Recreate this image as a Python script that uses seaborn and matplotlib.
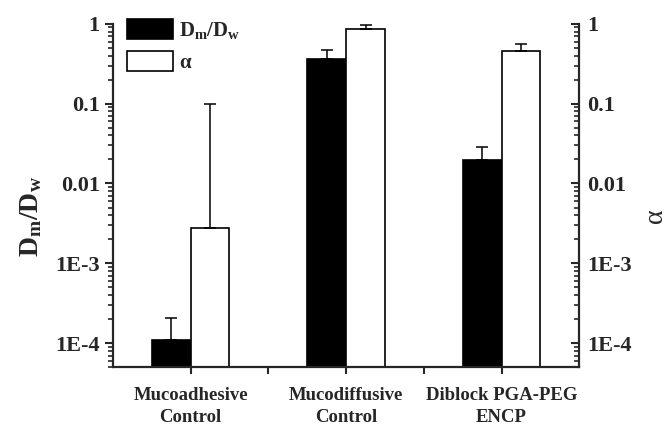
import pandas as pd
import seaborn as sns
import matplotlib
matplotlib.use('Agg')
import matplotlib.pyplot as plt
import numpy as np
from matplotlib.ticker import FixedLocator, LogLocator, NullFormatter

# data
groups = ['Mucoadhesive\nControl', 'Mucodiffusive\nControl', 'Diblock PGA-PEG\nENCP']
dm_dw = [1.11e-4, 0.36, 0.0197]
dm_dw_top = [2.06e-4, 0.47, 0.0287]
alpha = [2.77e-3, 0.865, 0.458]
alpha_top = [0.099, 0.98, 0.556]
series = ['$\\mathbf{D_m/D_w}$', 'α']
ytick_vals = [1e-4, 1e-3, 0.01, 0.1, 1]
ytick_labels = ['1E-4', '1E-3', '0.01', '0.1', '1']

sns.set_theme(style="ticks")
plt.rcParams['font.family'] = ['Liberation Serif', 'DejaVu Serif']
plt.rcParams['font.weight'] = 'bold'
plt.rcParams['mathtext.fontset'] = 'custom'
plt.rcParams['mathtext.rm'] = 'Liberation Serif:bold'
plt.rcParams['mathtext.bf'] = 'Liberation Serif:bold'
plt.rcParams['mathtext.it'] = 'Liberation Serif:bold'

df = pd.DataFrame({
    'group': groups * 2,
    'series': [series[0]] * 3 + [series[1]] * 3,
    'value': dm_dw + alpha,
})

fig = plt.figure(figsize=(6.72, 4.25), dpi=100)
ax = fig.add_axes([0.168, 0.136, 0.694, 0.808])

sns.barplot(data=df, x='group', y='value', hue='series', ax=ax,
            palette=['black', 'white'], edgecolor='black', linewidth=1.2,
            width=0.5, errorbar=None, saturation=1)
ax.set_yscale('log')
ax.set_ylim(5e-5, 1)
ax.set_xlim(-0.5, 2.5)

# upward-only error bars on each bar
for cont, top_vals in zip(ax.containers, [dm_dw_top, alpha_top]):
    xs = [p.get_x() + p.get_width() / 2 for p in cont.patches]
    hs = [p.get_height() for p in cont.patches]
    up = np.array(top_vals) - np.array(hs)
    ax.errorbar(xs, hs, yerr=[np.zeros(len(hs)), up], fmt='none',
                ecolor='black', elinewidth=1.1, capsize=4, capthick=1.1)

ax.yaxis.set_major_locator(FixedLocator(ytick_vals))
ax.set_yticklabels(ytick_labels)
ax.yaxis.set_minor_locator(LogLocator(base=10, subs=np.arange(2, 10)))
ax.yaxis.set_minor_formatter(NullFormatter())
ax.set_xticks([0, 1, 2])
ax.set_xticklabels(groups, fontsize=13.5, fontweight='bold', linespacing=1.4)
ax.set_xticks([0.5, 1.5], minor=True)
ax.tick_params(axis='x', which='both', direction='out', length=5, width=1.5, pad=9)
ax.tick_params(axis='y', which='major', direction='out', length=6, width=1.5, labelsize=16)
ax.tick_params(axis='y', which='minor', direction='out', length=3.5, width=1.2)
ax.set_xlabel('')
ax.set_ylabel('$\\mathbf{D_m/D_w}$', fontsize=20, labelpad=8, y=0.44)

for s in ['top', 'right']:
    ax.spines[s].set_visible(False)
for s in ['left', 'bottom']:
    ax.spines[s].set_linewidth(1.6)

ax2 = ax.twinx()
ax2.set_yscale('log')
ax2.set_ylim(5e-5, 1)
ax2.yaxis.set_major_locator(FixedLocator(ytick_vals))
ax2.set_yticklabels(ytick_labels)
ax2.yaxis.set_minor_locator(LogLocator(base=10, subs=np.arange(2, 10)))
ax2.yaxis.set_minor_formatter(NullFormatter())
ax2.tick_params(axis='y', which='major', direction='in', length=6, width=1.5, labelsize=16, pad=6)
ax2.tick_params(axis='y', which='minor', direction='in', length=3.5, width=1.2)
ax2.set_ylabel('α', fontsize=20, labelpad=8, y=0.44)
for s in ['top', 'left', 'bottom']:
    ax2.spines[s].set_visible(False)
ax2.spines['right'].set_linewidth(1.6)

leg = ax.legend(loc='upper left', bbox_to_anchor=(-0.01, 1.07), frameon=False,
                fontsize=15, handlelength=2.2, handleheight=1.1,
                labelspacing=0.5, handletextpad=0.3)
for h in leg.legend_handles:
    h.set_edgecolor('black')
    h.set_linewidth(1.2)

fig.savefig('out.png', dpi=100, facecolor='white')
